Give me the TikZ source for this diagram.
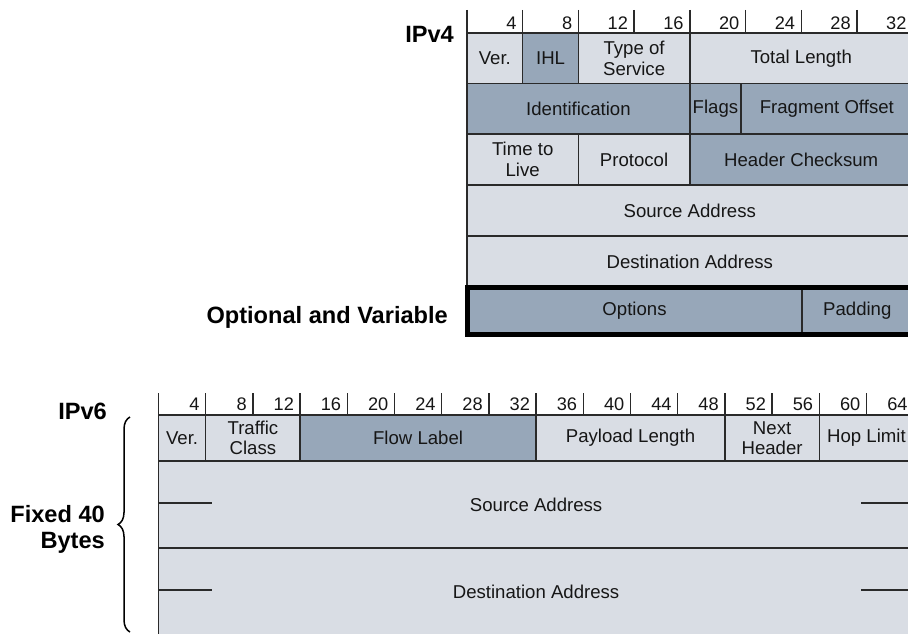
\documentclass[tikz,border=0pt]{standalone}
\usepackage{fontspec}
\setmainfont{Liberation Sans}
\usetikzlibrary{decorations.pathreplacing}

\definecolor{lightcell}{HTML}{D9DDE4}
\definecolor{darkcell}{HTML}{97A7B9}
\definecolor{rulecol}{HTML}{2A2A2A}
\definecolor{ink}{HTML}{161616}

\tikzset{
  cell/.style={draw=rulecol, line width=1.4pt},
  lt/.style={fill=lightcell},
  dk/.style={fill=darkcell},
  fieldtext/.style={text=ink, font=\fontsize{18.6}{20.5}\selectfont, align=center, inner sep=0pt},
  ticktext/.style={text=ink, font=\fontsize{18.2}{20}\selectfont, inner sep=0pt, anchor=base east},
  tickline/.style={draw=rulecol, line width=1.4pt},
  headtext/.style={text=black, font=\fontsize{23.6}{25.5}\selectfont\bfseries, inner sep=0pt},
  thinrule/.style={draw=rulecol, line width=1.4pt},
}

% one header field: name, x1, y1, x2, y2, fill style, label
\newcommand\hdrfield[7]{%
  \draw[cell,#6] (#2,#3) rectangle (#4,#5);
  \node[fieldtext] (#1) at ({(#2+#4)/2},{(#3+#5)/2}) {#7};}

\begin{document}
\begin{tikzpicture}[x=1pt,y=-1pt]
\useasboundingbox (0,0) rectangle (908,634);
\clip (0,0) rectangle (908,634);

% ---------------- IPv4 header (4 bits = 55.7) ----------------
\foreach \b in {0,4,...,32}
  \draw[tickline] ({467+13.925*\b},10) -- ({467+13.925*\b},33);
\foreach \b in {4,8,...,32}
  \node[ticktext] (v4tick\b) at ({467+13.925*\b-6},29.5) {\b};

\hdrfield{v4ver}{467}{33}{522.7}{83.5}{lt}{Ver.}
\hdrfield{v4ihl}{522.7}{33}{578.4}{83.5}{dk}{IHL}
\hdrfield{v4tos}{578.4}{33}{689.8}{83.5}{lt}{Type of\\Service}
\hdrfield{v4len}{689.8}{33}{912.6}{83.5}{lt}{Total Length}

\hdrfield{v4id}{467}{83.5}{689.8}{134}{dk}{Identification}
\hdrfield{v4flags}{689.8}{83.5}{741}{134}{dk}{Flags}
\hdrfield{v4frag}{741}{83.5}{912.6}{134}{dk}{Fragment Offset}

\hdrfield{v4ttl}{467}{134}{578.4}{185}{lt}{Time to\\Live}
\hdrfield{v4proto}{578.4}{134}{689.8}{185}{lt}{Protocol}
\hdrfield{v4csum}{689.8}{134}{912.6}{185}{dk}{Header Checksum}

\hdrfield{v4src}{467}{185}{912.6}{236}{lt}{Source Address}
\hdrfield{v4dst}{467}{236}{912.6}{287}{lt}{Destination Address}

\hdrfield{v4opt}{467}{287}{802}{335}{dk}{Options}
\hdrfield{v4pad}{802}{287}{912.6}{335}{dk}{Padding}
\draw[line width=4.5pt, black] (467.5,287.5) rectangle (915,334.5);

\node[headtext, anchor=base east] (v4title) at (454,42.5) {IPv4};
\node[headtext, anchor=base east] (v4optlabel) at (448,323) {Optional and Variable};

% ---------------- IPv6 header (4 bits = 47.2) ----------------
\foreach \b in {0,4,...,64}
  \draw[tickline] ({158.5+11.8*\b},393) -- ({158.5+11.8*\b},415);
\foreach \b in {4,8,...,64}
  \node[ticktext] (v6tick\b) at ({158.5+11.8*\b-6},410) {\b};

\hdrfield{v6ver}{158.5}{415}{205.7}{461}{lt}{Ver.}
\hdrfield{v6tc}{205.7}{415}{300.1}{461}{lt}{Traffic\\Class}
\hdrfield{v6flow}{300.1}{415}{536.1}{461}{dk}{Flow Label}
\hdrfield{v6plen}{536.1}{415}{724.9}{461}{lt}{Payload Length}
\hdrfield{v6next}{724.9}{415}{819.3}{461}{lt}{Next\\Header}
\hdrfield{v6hop}{819.3}{415}{913.7}{461}{lt}{Hop Limit}

\hdrfield{v6src}{158.5}{461}{913.7}{548}{lt}{Source Address}
\hdrfield{v6dst}{158.5}{548}{913.7}{636}{lt}{Destination Address}

% 32-bit word marks inside the address rows
\foreach \y in {503,590} {
  \draw[thinrule] (158.5,\y) -- (211.7,\y);
  \draw[thinrule] (861,\y) -- (914,\y);
}

\node[headtext, anchor=base east] (v6title) at (107,419.5) {IPv6};

% brace spanning the fixed-size header
\coordinate (braceTop) at (130,417);
\coordinate (braceBot) at (130,632);
\draw[line width=1.5pt, black, decorate, decoration={brace, amplitude=12pt}]
  (braceBot) -- (braceTop);
\node[headtext, align=right, anchor=east] (v6fixed) at (105,529.5) {Fixed 40\\Bytes};

\end{tikzpicture}
\end{document}
